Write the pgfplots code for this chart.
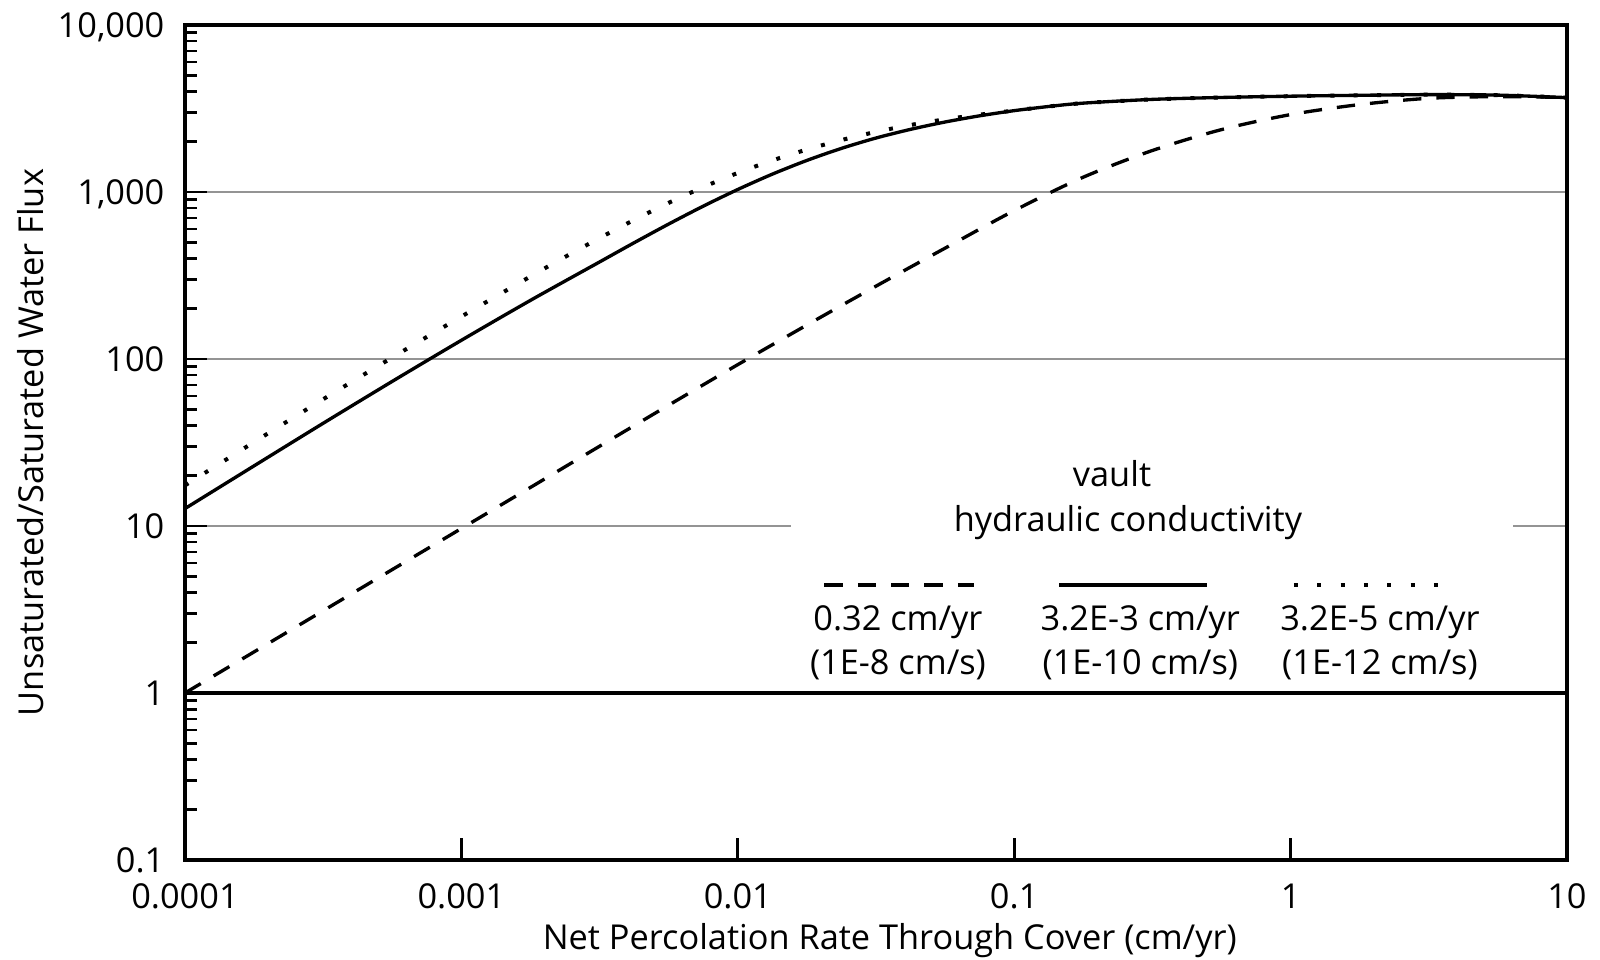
\documentclass[border=0pt]{standalone}
\usepackage{fontspec}
\setmainfont{Open Sans}
\usepackage{pgfplots}
\pgfplotsset{compat=1.18}

\pgfplotstableread{
x y
1e-4 1.0
1.778e-4 1.762
3.162e-4 3.108
5.623e-4 5.483
1e-3 9.66
1.778e-3 17.02
3.162e-3 30.03
5.623e-3 52.9
1e-2 92.5
1.778e-2 159.7
3.162e-2 272.9
5.623e-2 460.9
0.1 773.6
0.1778 1226
0.3162 1772
0.5623 2363
1.0 2907
1.778 3338
3.162 3639
5.623 3724
10 3681
}\dashedtab

\pgfplotstableread{
x y
1e-4 12.71
1.778e-4 22.91
3.162e-4 41.21
5.623e-4 73.45
1e-3 129.4
1.778e-3 224.4
3.162e-3 381.1
4.217e-3 496.6
5.623e-3 642.7
7.499e-3 822.2
1e-2 1035
1.334e-2 1279
1.778e-2 1545
2.371e-2 1824
3.162e-2 2104
4.217e-2 2371
5.623e-2 2624
7.499e-2 2858
0.1 3069
0.1334 3251
0.1778 3404
0.3162 3585
0.5623 3681
1.0 3747
1.778 3793
3.162 3828
5.623 3802
10 3673
}\solidtab

\pgfplotstableread{
x y
1e-4 17.5
1.778e-4 31.8
3.162e-4 57.4
5.623e-4 102.1
1e-3 179.5
1.778e-3 311.9
2.371e-3 408.3
3.162e-3 529.7
4.217e-3 680.8
5.623e-3 861.0
7.499e-3 1069
1e-2 1300
1.334e-2 1545
1.778e-2 1795
2.371e-2 2046
3.162e-2 2291
4.217e-2 2518
5.623e-2 2723
7.499e-2 2904
0.1 3073
0.1334 3251
0.1778 3404
0.3162 3585
0.5623 3681
1.0 3747
1.778 3793
3.162 3828
5.623 3802
10 3673
}\dottedtab

\begin{document}
\fontsize{10.3}{12.4}\selectfont
\begin{tikzpicture}
\path[use as bounding box] (-55.5pt,-30pt) rectangle (424.5pt,258pt);
\begin{axis}[
  at={(0,0)}, anchor=south west,
  scale only axis, width=414.6pt, height=250.5pt,
  xmode=log, ymode=log,
  xmin=1e-4, xmax=10, ymin=0.1, ymax=10000,
  axis line style={line width=1pt, black},
  xtick={1e-4,1e-3,1e-2,1e-1,1,10},
  xticklabels={0.0001,0.001,0.01,0.1,1,10},
  ytick={0.1,1,10,100,1000,10000},
  yticklabels={0.1,1,10,100,{1,000},{10,000}},
  xminorticks=false,
  minor ytick={0.2,0.3,0.4,0.5,0.6,0.7,0.8,0.9,2,3,4,5,6,7,8,9,20,30,40,50,60,70,80,90,200,300,400,500,600,700,800,900,2000,3000,4000,5000,6000,7000,8000,9000},
  tick align=inside,
  xtick pos=bottom, ytick pos=left,
  major tick length=6.5pt, minor tick length=3.5pt,
  tick style={black, line width=0.8pt},
  ymajorgrids=true, xmajorgrids=false,
  major grid style={black!42, line width=0.5pt},
  yticklabel style={anchor=east, inner sep=0pt, xshift=-6pt, text depth=0pt},
  xticklabel style={anchor=center, inner sep=0pt, yshift=-10.8pt, text depth=0pt},
  xlabel={Net Percolation Rate Through Cover (cm/yr)},
  xlabel style={at={(rel axis cs:0.51,-0.091)}, anchor=center, inner sep=0pt, text depth=0pt},
  ylabel={Unsaturated/Saturated Water Flux},
  ylabel style={at={(rel axis cs:-0.1114,0.5)}, anchor=center, inner sep=0pt},
]
\addplot[black, line width=1.2pt, forget plot] coordinates {(1e-4,1) (10,1)};
\addplot[black, line width=1pt, dash pattern=on 5.5pt off 4.5pt, smooth] table[x=x,y=y] {\dashedtab};
\addplot[black, line width=1.2pt, dash pattern=on 1.2pt off 5.8pt, smooth] table[x=x,y=y] {\dottedtab};
\addplot[black, line width=1pt, smooth] table[x=x,y=y] {\solidtab};

\fill[white] (rel axis cs:0.4385,0.37) rectangle (rel axis cs:0.961,0.43);
\node[anchor=base, inner sep=0pt] at (rel axis cs:0.6708,0.4467) {vault};
\node[anchor=base, inner sep=0pt] at (rel axis cs:0.6823,0.3928) {hydraulic conductivity};
\draw[black, line width=1pt, dash pattern=on 5.5pt off 4.5pt] (rel axis cs:0.4627,0.3293) -- (rel axis cs:0.5712,0.3293);
\draw[black, line width=1pt] (rel axis cs:0.6325,0.3293) -- (rel axis cs:0.7395,0.3293);
\draw[black, line width=1.2pt, dash pattern=on 1.2pt off 5.8pt] (rel axis cs:0.8024,0.3293) -- (rel axis cs:0.9074,0.3293);
\node[anchor=base, inner sep=0pt] at (rel axis cs:0.5159,0.2754) {0.32 cm/yr};
\node[anchor=base, inner sep=0pt] at (rel axis cs:0.5159,0.2216) {(1E-8 cm/s)};
\node[anchor=base, inner sep=0pt] at (rel axis cs:0.6913,0.2754) {3.2E-3 cm/yr};
\node[anchor=base, inner sep=0pt] at (rel axis cs:0.6913,0.2216) {(1E-10 cm/s)};
\node[anchor=base, inner sep=0pt] at (rel axis cs:0.8647,0.2754) {3.2E-5 cm/yr};
\node[anchor=base, inner sep=0pt] at (rel axis cs:0.8647,0.2216) {(1E-12 cm/s)};
\end{axis}
\end{tikzpicture}
\end{document}
